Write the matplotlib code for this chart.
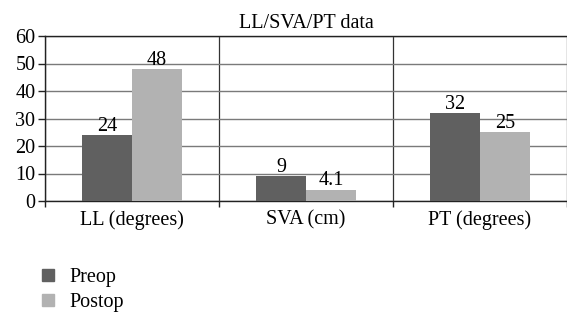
import matplotlib
matplotlib.use("Agg")
import matplotlib.pyplot as plt
from matplotlib.lines import Line2D
import numpy as np

CATEGORIES = ["LL (degrees)", "SVA (cm)", "PT (degrees)"]
SERIES = ["Preop", "Postop"]
PREOP = [24, 9, 32]
POSTOP = [48, 4.1, 25]
LABELS_PREOP = ["24", "9", "32"]
LABELS_POSTOP = ["48", "4.1", "25"]
COLORS = ["#606060", "#b2b2b2"]
FS = 14.5

plt.rcParams["font.family"] = ["Liberation Serif", "DejaVu Serif"]

fig = plt.figure(figsize=(5.67, 3.14), dpi=100)
ax = fig.add_axes([45 / 567, 1 - 201 / 314, 1 - 45 / 567, 165 / 314])

x = np.arange(len(CATEGORIES)) + 0.5
width = 0.286
for vals, labels, color, off, name in [
    (PREOP, LABELS_PREOP, COLORS[0], -width / 2, SERIES[0]),
    (POSTOP, LABELS_POSTOP, COLORS[1], width / 2, SERIES[1]),
]:
    bars = ax.bar(x + off, vals, width=width, color=color, zorder=3, label=name)
    for b, lab in zip(bars, labels):
        ax.annotate(lab, (b.get_x() + b.get_width() / 2, b.get_height()),
                    xytext=(0, -0.5), textcoords="offset points",
                    ha="center", va="bottom", fontsize=FS, zorder=4)

ax.set_xlim(0, 3)
ax.set_ylim(0, 60)
ax.set_yticks(range(0, 61, 10))
ax.set_xticks(x)
ax.set_xticklabels(CATEGORIES, fontsize=FS)
ax.set_xticks([0, 1, 2, 3], minor=True)
ax.tick_params(axis="x", which="major", length=0, pad=7)
ax.tick_params(axis="x", which="minor", length=4, width=1, color="#222222")
ax.tick_params(axis="y", labelsize=FS, length=5, width=1, color="#222222", pad=2)

ax.grid(True, axis="y", color="#7a7a7a", linewidth=1, zorder=0)
ax.grid(True, axis="x", which="minor", color="#333333", linewidth=0.9, zorder=0)
ax.set_axisbelow(True)

ax.spines["right"].set_visible(False)
for s in ax.spines.values():
    s.set_color("#222222")
    s.set_linewidth(1)

ax.set_title("LL/SVA/PT data", fontsize=FS, pad=6)

handles = [Line2D([], [], marker="s", linestyle="none", markersize=8,
                  markerfacecolor=c, markeredgecolor=c) for c in COLORS]
fig.legend(handles, SERIES, loc="upper left", bbox_to_anchor=(38 / 567, 1 - 268 / 314),
           frameon=False, fontsize=FS, handlelength=1.0, handletextpad=0.55,
           labelspacing=0.3, borderpad=0, borderaxespad=0)

fig.savefig("out.png", dpi=100)
